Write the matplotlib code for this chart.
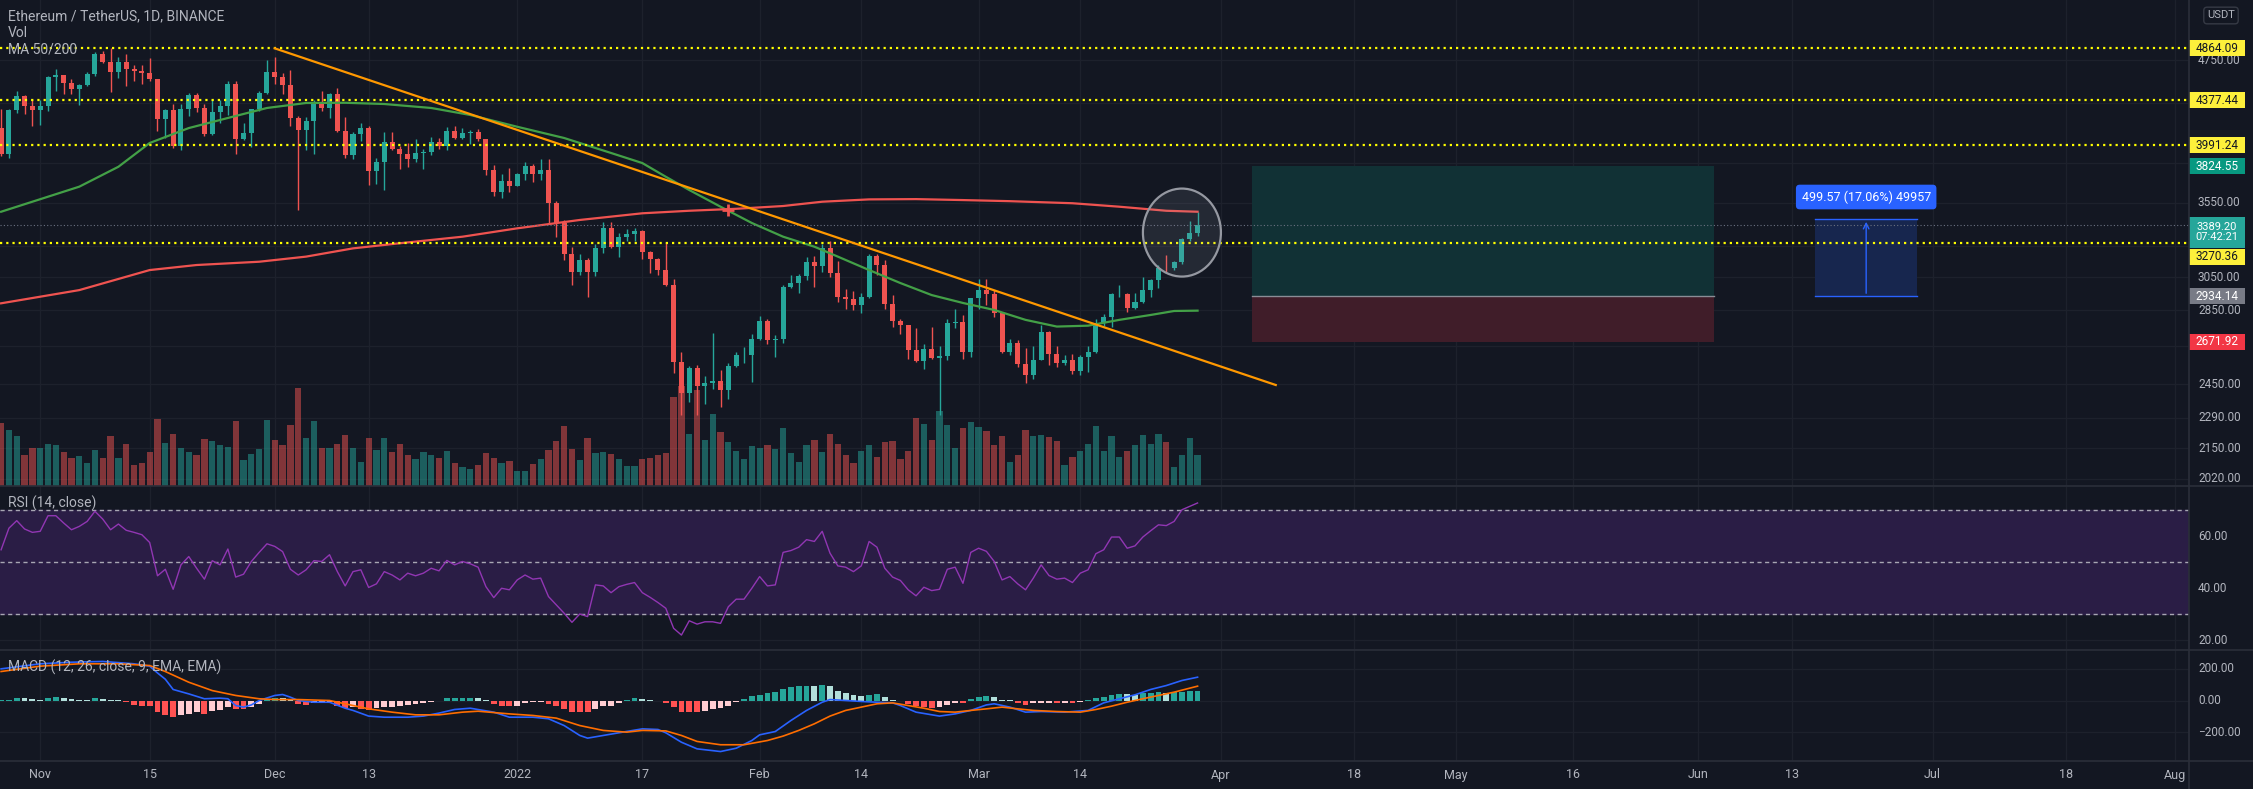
#!/usr/bin/env python
# ETH/USDT 1D (Binance) chart with volume, MA 50/200, RSI and MACD panes,
# redrawn in a TradingView-like dark style.

import numpy as np
import pandas as pd
import matplotlib
matplotlib.use("Agg")
import matplotlib.pyplot as plt
import matplotlib.transforms as mtransforms
from matplotlib import font_manager
from matplotlib.lines import Line2D
from matplotlib.patches import Rectangle, Ellipse

start_date = "2021-10-27"

opens = [4131, 3922, 4287, 4414, 4325, 4288, 4324, 4587, 4604, 4530,
         4476, 4518, 4612, 4807, 4732, 4636, 4730, 4667, 4649, 4626,
         4565, 4214, 4290, 3986, 4300, 4424, 4309, 4087, 4270, 4320,
         4523, 4046, 4096, 4294, 4444, 4631, 4586, 4511, 4220, 4119,
         4194, 4356, 4308, 4434, 4110, 3909, 4081, 4135, 3786, 3861,
         4021, 3960, 3923, 3880, 3925, 3940, 4020, 3982, 4108, 4048,
         4093, 4100, 4039, 3797, 3628, 3713, 3676, 3765, 3829, 3762,
         3796, 3549, 3406, 3196, 3080, 3156, 3081, 3239, 3372, 3246,
         3309, 3330, 3350, 3212, 3164, 3095, 3001, 2565, 2405, 2535,
         2441, 2459, 2466, 2421, 2546, 2599, 2604, 2688, 2791, 2682,
         2690, 2987, 3013, 3057, 3144, 3118, 3239, 3074, 2926, 2915,
         2880, 2929, 3183, 3123, 2885, 2788, 2764, 2627, 2571, 2636,
         2587, 2596, 2775, 2783, 2617, 2920, 2970, 2948, 2833, 2620,
         2665, 2553, 2495, 2576, 2728, 2607, 2559, 2573, 2517, 2591,
         2617, 2776, 2813, 2944, 2949, 2861, 2896, 2972, 3030, 3108,
         3106, 3146, 3298, 3336]
highs = [4299, 4297, 4460, 4419, 4390, 4377, 4600, 4665, 4606, 4574,
         4525, 4633, 4825, 4838, 4868, 4780, 4810, 4705, 4705, 4773,
         4565, 4300, 4346, 4345, 4440, 4440, 4340, 4383, 4380, 4550,
         4552, 4176, 4300, 4460, 4750, 4778, 4625, 4650, 4235, 4230,
         4375, 4460, 4445, 4490, 4230, 4100, 4180, 4150, 3890, 4100,
         4100, 3985, 4010, 4045, 3960, 4060, 4055, 4140, 4150, 4135,
         4120, 4125, 4039, 3830, 3767, 3810, 3770, 3855, 3838, 3880,
         3880, 3560, 3425, 3240, 3200, 3170, 3260, 3410, 3412, 3340,
         3365, 3374, 3360, 3215, 3173, 3276, 3040, 2620, 2545, 2550,
         2490, 2720, 2525, 2560, 2620, 2645, 2718, 2815, 2800, 2710,
         3000, 3065, 3070, 3175, 3185, 3265, 3280, 3150, 2975, 2965,
         2950, 3195, 3200, 3160, 2940, 2800, 2765, 2750, 2660, 2755,
         2650, 2800, 2860, 2825, 2925, 3035, 3040, 2970, 2840, 2690,
         2680, 2640, 2650, 2765, 2730, 2650, 2600, 2605, 2600, 2650,
         2800, 2830, 2955, 3000, 2950, 2950, 3050, 3040, 3125, 3190,
         3150, 3300, 3420, 3480]
lows = [3905, 3890, 4267, 4251, 4150, 4160, 4282, 4455, 4434, 4430,
        4330, 4500, 4600, 4718, 4450, 4576, 4500, 4555, 4520, 4555,
        4110, 4055, 3966, 3953, 4233, 4274, 4065, 4075, 4180, 4250,
        3924, 4035, 3980, 4280, 4430, 4520, 4428, 4150, 3500, 3950,
        3920, 4280, 4220, 4100, 3890, 3880, 4030, 3680, 3690, 3640,
        3950, 3800, 3820, 3860, 3800, 3915, 3960, 3955, 4040, 4040,
        4000, 4030, 3760, 3600, 3585, 3625, 3675, 3720, 3700, 3720,
        3400, 3310, 3160, 3000, 3060, 2928, 3055, 3205, 3235, 3180,
        3280, 3280, 3165, 3075, 3060, 2995, 2510, 2300, 2365, 2300,
        2355, 2425, 2340, 2380, 2540, 2560, 2460, 2685, 2660, 2590,
        2665, 2985, 2955, 3030, 2990, 3080, 3050, 2900, 2860, 2850,
        2835, 2925, 3060, 2860, 2755, 2715, 2580, 2565, 2530, 2580,
        2300, 2575, 2750, 2580, 2590, 2860, 2880, 2810, 2610, 2600,
        2540, 2455, 2475, 2575, 2550, 2540, 2550, 2505, 2500, 2515,
        2610, 2760, 2755, 2930, 2840, 2860, 2895, 2930, 2985, 3075,
        3095, 3135, 3285, 3320]
closes = [3922, 4287, 4414, 4325, 4288, 4324, 4587, 4604, 4530, 4476,
          4518, 4612, 4807, 4732, 4636, 4730, 4667, 4649, 4626, 4565,
          4214, 4290, 3986, 4300, 4424, 4309, 4087, 4270, 4320, 4523,
          4046, 4096, 4294, 4444, 4631, 4586, 4511, 4220, 4119, 4194,
          4356, 4308, 4434, 4110, 3909, 4081, 4135, 3786, 3861, 4021,
          3960, 3923, 3880, 3925, 3940, 4020, 3982, 4108, 4048, 4093,
          4100, 4039, 3797, 3628, 3713, 3676, 3765, 3829, 3762, 3796,
          3549, 3406, 3196, 3080, 3156, 3081, 3239, 3372, 3246, 3309,
          3330, 3350, 3212, 3164, 3095, 3001, 2565, 2405, 2535, 2441,
          2459, 2466, 2421, 2546, 2599, 2604, 2688, 2791, 2682, 2690,
          2987, 3013, 3057, 3144, 3118, 3239, 3074, 2926, 2915, 2880,
          2929, 3183, 3123, 2885, 2788, 2764, 2627, 2571, 2636, 2587,
          2596, 2775, 2783, 2617, 2920, 2970, 2948, 2833, 2620, 2665,
          2553, 2495, 2576, 2728, 2607, 2559, 2573, 2517, 2591, 2617,
          2776, 2813, 2944, 2949, 2861, 2896, 2972, 3030, 3108, 3106,
          3146, 3298, 3336, 3389]
volume_k = [633, 560, 500, 307, 383, 377, 417, 407, 340, 277,
            300, 227, 357, 283, 500, 277, 417, 207, 227, 340,
            667, 427, 517, 377, 340, 307, 467, 450, 407, 393,
            650, 257, 317, 367, 660, 457, 410, 610, 983, 477,
            647, 377, 383, 423, 507, 383, 240, 477, 357, 483,
            340, 423, 307, 273, 340, 307, 277, 350, 233, 193,
            173, 210, 333, 277, 233, 250, 150, 150, 217, 267,
            360, 450, 600, 367, 257, 477, 327, 340, 317, 267,
            200, 200, 267, 283, 307, 327, 893, 1000, 517, 960,
            457, 717, 543, 440, 350, 267, 400, 377, 407, 367,
            583, 327, 240, 407, 460, 340, 523, 417, 307, 227,
            350, 407, 293, 440, 450, 267, 350, 677, 617, 457,
            750, 607, 377, 577, 643, 593, 550, 407, 500, 243,
            307, 557, 500, 507, 493, 450, 207, 290, 350, 417,
            600, 350, 500, 293, 350, 407, 507, 417, 517, 440,
            193, 307, 477, 307]

# moving averages, sampled along the curves (day index, price)
ma50_day = [0, 10, 15, 19, 24, 29, 34, 39, 44, 49, 55, 60, 66, 72, 78, 82, 85,
            88, 92, 96, 100, 104, 107, 111, 115, 119, 123, 127, 131, 135, 139,
            143, 147, 150, 153]
ma50_val = [3485, 3668, 3820, 4010, 4134, 4220, 4307, 4351, 4353, 4342, 4307,
            4246, 4145, 4051, 3929, 3849, 3743, 3643, 3521, 3406, 3312, 3245,
            3180, 3094, 3013, 2940, 2893, 2852, 2795, 2757, 2762, 2795, 2823,
            2846, 2848]
ma200_day = [0, 10, 19, 25, 33, 39, 45, 51, 59, 66, 74, 82, 88, 94, 100, 105,
             111, 117, 123, 129, 137, 143, 149, 153]
ma200_val = [2891, 2970, 3094, 3126, 3147, 3180, 3234, 3268, 3312, 3369, 3427,
             3474, 3492, 3506, 3526, 3557, 3574, 3576, 3569, 3561, 3546, 3521,
             3492, 3485]

rsi = [54.7, 63.0, 65.9, 62.7, 61.4, 61.8, 67.8, 67.8, 65.0, 62.4,
       63.7, 65.6, 69.5, 66.5, 62.4, 64.6, 62.2, 61.4, 60.5, 57.5,
       44.7, 47.2, 39.5, 48.9, 52.1, 47.6, 43.4, 50.5, 48.9, 55.0,
       44.2, 45.3, 50.2, 53.7, 57.0, 56.0, 54.0, 47.2, 45.0, 47.0,
       50.5, 50.2, 52.8, 46.3, 40.8, 46.3, 47.0, 40.2, 41.6, 46.3,
       45.0, 43.1, 45.7, 44.7, 45.7, 47.6, 46.6, 50.6, 48.9, 50.2,
       49.3, 48.0, 40.5, 36.3, 39.9, 39.3, 43.1, 45.0, 43.4, 43.8,
       36.7, 33.5, 30.3, 26.8, 30.0, 29.0, 41.2, 40.8, 38.2, 40.5,
       41.4, 42.1, 38.2, 36.4, 34.4, 32.2, 24.5, 21.9, 27.4, 26.1,
       27.0, 27.0, 26.4, 32.8, 35.7, 35.7, 39.9, 44.4, 40.8, 41.2,
       53.7, 54.4, 55.7, 58.6, 57.9, 61.8, 53.4, 48.5, 48.0, 46.3,
       48.5, 57.9, 55.7, 47.6, 44.2, 42.9, 39.3, 37.0, 40.3, 39.0,
       39.5, 47.2, 48.0, 41.8, 53.7, 55.3, 54.1, 50.2, 43.1, 44.4,
       41.6, 39.3, 43.8, 48.9, 44.8, 43.4, 43.8, 42.1, 45.7, 47.0,
       53.2, 54.7, 59.6, 59.6, 55.3, 56.2, 59.6, 62.0, 64.3, 64.0,
       65.6, 70.1, 71.4, 72.7]

macd_day = [0, 5, 9, 13, 17, 19, 20, 21, 22, 24, 26, 28, 29, 30, 31, 32, 33,
            35, 36, 37, 38, 40, 42, 44, 45, 47, 49, 52, 54, 56, 58, 60, 63, 65,
            68, 70, 72, 74, 75, 77, 79, 82, 84, 85, 87, 89, 92, 94, 96, 97, 99,
            101, 103, 105, 106, 108, 110, 112, 114, 115, 117, 120, 122, 124,
            126, 127, 129, 131, 133, 136, 139, 141, 143, 145, 147, 149, 151, 153]
macd_val = [201, 233, 243, 248, 233, 218, 175, 135, 70, 42, 11, 15, 11, -32,
            -42, -28, 0, 32, 38, 21, 0, -11, -11, -49, -63, -99, -106, -106,
            -99, -80, -57, -49, -74, -106, -106, -116, -159, -222, -239, -222,
            -205, -180, -184, -205, -265, -307, -324, -303, -254, -218, -197,
            -127, -63, -11, 6, 0, -6, -11, -15, -32, -74, -99, -85, -63, -28,
            -21, -42, -74, -70, -74, -63, -15, 11, 36, 70, 95, 127, 148]
signal_day = [0, 5, 10, 15, 19, 21, 24, 27, 30, 33, 35, 38, 42, 44, 47, 50, 53,
              56, 59, 61, 65, 68, 71, 74, 77, 80, 82, 85, 87, 89, 92, 95, 98,
              100, 102, 104, 106, 108, 110, 112, 114, 116, 118, 120, 122, 124,
              126, 128, 130, 132, 135, 138, 140, 142, 144, 146, 148, 150, 153]
signal_val = [184, 218, 233, 233, 222, 184, 116, 63, 32, 11, 6, 6, 0, -21, -53,
              -74, -91, -91, -74, -68, -85, -95, -112, -159, -190, -201, -190,
              -193, -222, -260, -281, -281, -254, -226, -190, -148, -99, -63,
              -42, -21, -15, -32, -49, -70, -74, -63, -53, -42, -53, -63, -70,
              -74, -57, -36, -11, 11, 32, 53, 91]
hist = [2, 6, 17, 15, 10, 4, 17, 25, 15, 8,
        6, 5, 13, 11, 2, 0.5, -10, -27, -32, -38,
        -70, -91, -102, -95, -85, -74, -85, -68, -63, -42,
        -53, -57, -42, -21, 8, 18, 15, 4, -21, -27,
        -17, -10, -9, -38, -47, -42, -53, -59, -47, -42,
        -41, -36, -27, -21, -15, -10, -3, 15, 17, 18,
        19, 17, 4, -25, -32, -36, -32, -15, -10, -9,
        -25, -38, -57, -74, -75, -76, -53, -36, -32, -15,
        6, 15, 10, 4, -1, -15, -42, -70, -70, -72,
        -68, -53, -49, -32, -10, 10, 27, 38, 47, 57,
        70, 85, 91, 95, 93, 101, 91, 63, 49, 32,
        28, 38, 39, 21, 4, -6, -23, -36, -42, -49,
        -42, -27, -15, -16, 10, 21, 27, 25, 6, 1,
        -15, -27, -17, -15, -14, -16, -14, -17, -10, 4,
        15, 25, 38, 42, 40, 38, 47, 48, 53, 47,
        53, 57, 59, 60]

# drawings on the chart
levels = [4864.09, 4377.44, 3991.24, 3270.36]
last_price = 3389.20
last_time = "07:42:21"
trend_dates = ["2021-12-01", "2022-04-08"]
trend_prices = [4864.09, 2447.0]
long_dates = ["2022-04-05", "2022-06-03"]
long_target, long_entry, long_stop = 3824.55, 2934.14, 2671.92
range_dates = ["2022-06-16", "2022-06-29"]
range_low, range_change, range_pct, range_ticks = 2934.14, 499.57, 17.06, 49957
circle_date, circle_price = "2022-03-27", 3340
cross_date, cross_price = "2022-01-28", 3495

grid_prices = [4750, 4350, 3850, 3550, 3250, 3050, 2850, 2650, 2450, 2290, 2150, 2020]
price_labels = [4750, 3550, 3050, 2850, 2450, 2290, 2150, 2020]  # the rest sit under tags
rsi_ticks = [60, 40, 20]
macd_ticks = [200, 0, -200]
tick_dates = ["2021-11-01", "2021-11-15", "2021-12-01", "2021-12-13", "2022-01-01",
              "2022-01-17", "2022-02-01", "2022-02-14", "2022-03-01", "2022-03-14",
              "2022-04-01", "2022-04-18", "2022-05-01", "2022-05-16", "2022-06-01",
              "2022-06-13", "2022-07-01", "2022-07-18", "2022-08-01"]
tick_labels = ["Nov", "15", "Dec", "13", "2022", "17", "Feb", "14", "Mar", "14",
               "Apr", "18", "May", "16", "Jun", "13", "Jul", "18", "Aug"]

# style
BG = "#131722"
GRID = "#1d212c"
SEP = "#2a2e39"
TXT = "#b2b5be"
UP = "#26a69a"
DN = "#ef5350"

names = {f.name for f in font_manager.fontManager.ttflist}
font = "Liberation Sans Narrow" if "Liberation Sans Narrow" in names else "Roboto"
plt.rcParams["font.family"] = [font, "DejaVu Sans"]
SCALE_FS = 9 if font == "Liberation Sans Narrow" else 8.5

W, H = 2253, 789
PLOT_R = 2189
PX_DAY = 7.82
X0 = 1.1
PX_LN = 490.0


def day(d):
    return (pd.Timestamp(d) - pd.Timestamp(start_date)).days


def add_ax(y0, y1, x0=0, x1=PLOT_R):
    a = fig.add_axes([x0 / W, 1 - y1 / H, (x1 - x0) / W, (y1 - y0) / H])
    a.set_axis_off()
    return a


fig = plt.figure(figsize=(W / 100, H / 100), dpi=100, facecolor=BG)
xlim = (-X0 / PX_DAY, (PLOT_R - X0) / PX_DAY)
main_ylim = (4750 * np.exp(-(486 - 60) / PX_LN), 4750 * np.exp(60 / PX_LN))
rsi_ylim = (50 - 87 / 2.6, 50 + 75 / 2.6)
macd_ylim = (-60.5 * 200 / 31.5, 50.5 * 200 / 31.5)

ax_vol = add_ax(0, 486)
ax = add_ax(0, 486)
ax_rsi = add_ax(487, 649)
ax_macd = add_ax(650, 761)
ax_r = add_ax(0, 486, PLOT_R, W)
ax_r_rsi = add_ax(487, 649, PLOT_R, W)
ax_r_macd = add_ax(650, 761, PLOT_R, W)

for a in (ax, ax_r):
    a.set_yscale("log")
    a.set_ylim(*main_ylim)
for a in (ax_vol, ax, ax_rsi, ax_macd):
    a.set_xlim(*xlim)
ax_vol.set_ylim(0, 4860)
ax_r.set_xlim(0, 1)
ax_rsi.set_ylim(*rsi_ylim)
ax_r_rsi.set_ylim(*rsi_ylim)
ax_macd.set_ylim(*macd_ylim)
ax_r_macd.set_ylim(*macd_ylim)

x = np.arange(len(closes))
o = np.array(opens, float)
c = np.array(closes, float)
up = c >= o
tick_x = [day(d) for d in tick_dates]

# grid (drawn in the bottom layer)
grid_tr = mtransforms.blended_transform_factory(ax_vol.transAxes, ax.transData)
for p in grid_prices:
    ax_vol.plot([0, 1], [p, p], color=GRID, lw=1, transform=grid_tr, zorder=0)
for a in (ax_vol, ax_rsi, ax_macd):
    for t in tick_x:
        a.axvline(t, color=GRID, lw=1, zorder=0)
for t in rsi_ticks:
    ax_rsi.axhline(t, color=GRID, lw=1, zorder=0)
for t in macd_ticks:
    ax_macd.axhline(t, color=GRID, lw=1, zorder=0)

# volume
vol_cols = [(0.149, 0.651, 0.604, 0.5) if u else (0.937, 0.325, 0.314, 0.5) for u in up]
ax_vol.bar(x, volume_k, width=0.8, color=vol_cols, zorder=2)

# candles
cols = [UP if u else DN for u in up]
ax.vlines(x, lows, highs, colors=cols, lw=1, zorder=3)
ax.bar(x, np.maximum(np.abs(c - o), 2.0), bottom=np.minimum(o, c), width=0.64,
       color=cols, zorder=3)

# moving averages and trend line
ax.plot(ma50_day, ma50_val, color="#43a047", lw=1.6, zorder=4)
ax.plot(ma200_day, ma200_val, color="#ef5350", lw=1.6, zorder=4)
ax.plot(day(cross_date), cross_price, marker="+", color="#ef5350", ms=9, mew=2, zorder=5)
ax.plot([day(d) for d in trend_dates], trend_prices, color="#ff9800", lw=1.6, zorder=5)

# horizontal levels
for lv in levels:
    ax.axhline(lv, color="#ffff00", lw=1.6, ls=(0, (1, 1.8)), zorder=4)
ax.axhline(last_price, color="#6b7282", lw=0.8, ls=(0, (1, 2)), zorder=4)

# long position tool
lx0, lx1 = day(long_dates[0]), day(long_dates[1])
ax.add_patch(Rectangle((lx0, long_entry), lx1 - lx0, long_target - long_entry,
                       facecolor="#113135", edgecolor="none", zorder=1))
ax.add_patch(Rectangle((lx0, long_stop), lx1 - lx0, long_entry - long_stop,
                       facecolor="#401d29", edgecolor="none", zorder=1))
ax.plot([lx0, lx1], [long_entry, long_entry], color="#8a8d96", lw=1, zorder=2)

# price range tool
rx0, rx1 = day(range_dates[0]), day(range_dates[1])
rtop = range_low + range_change
ax.add_patch(Rectangle((rx0, range_low), rx1 - rx0, range_change,
                       facecolor="#17264e", edgecolor="none", zorder=1))
ax.plot([rx0, rx1], [range_low, range_low], color="#2962ff", lw=1, zorder=2)
ax.plot([rx0, rx1], [rtop, rtop], color="#2962ff", lw=1, zorder=2)
rmid = (rx0 + rx1) / 2
ax.annotate("", xy=(rmid, rtop), xytext=(rmid, range_low),
            arrowprops=dict(arrowstyle="->", color="#2962ff", lw=1), zorder=3)
ax.text(rmid, rtop * np.exp(22 / PX_LN),
        f"{range_change:.2f} ({range_pct:.2f}%) {range_ticks}",
        ha="center", va="center", color="white", fontsize=9, zorder=6,
        bbox=dict(boxstyle="round,pad=0.45,rounding_size=0.3", fc="#2962ff", ec="none"))

# highlight circle (drawn in axes coords so it stays round on the log axis)
cx, cy = (ax.transData + ax.transAxes.inverted()).transform((day(circle_date), circle_price))
ax.add_patch(Ellipse((cx, cy), 78 / PLOT_R, 88 / 486, transform=ax.transAxes,
                     facecolor=(0.62, 0.64, 0.70, 0.13), edgecolor="#9598a1",
                     lw=1.6, zorder=6))

# RSI pane
ax_rsi.axhspan(30, 70, color="#2a1d45", zorder=0.5)
for lv in (70, 50, 30):
    ax_rsi.axhline(lv, color="#c8cad0", lw=1, ls=(0, (3, 2.5)), alpha=0.8, zorder=1)
ax_rsi.plot(x, rsi, color="#9136b3", lw=1, zorder=3)

# MACD pane
hcols = []
for i, v in enumerate(hist):
    prev = hist[i - 1] if i > 0 else 0
    if v >= 0:
        hcols.append("#26a69a" if v > prev else "#b2dfdb")
    else:
        hcols.append("#ffcdd2" if v > prev else "#ff5252")
ax_macd.bar(x, hist, width=0.75, color=hcols, zorder=2)
ax_macd.plot(macd_day, macd_val, color="#2962ff", lw=1.2, zorder=3)
ax_macd.plot(signal_day, signal_val, color="#ff6d00", lw=1.2, zorder=3)


# right price scales
def scale_labels(a, ticks, fmt):
    tr = a.get_yaxis_transform()
    for t in ticks:
        a.text(9 / 64, t, fmt(t), transform=tr, ha="left", va="center",
               color=TXT, fontsize=SCALE_FS, zorder=2)


scale_labels(ax_r, price_labels, lambda t: f"{t:.2f}")
scale_labels(ax_r_rsi, rsi_ticks, lambda t: f"{t:.2f}")
scale_labels(ax_r_macd, macd_ticks, lambda t: f"{t:.2f}".replace("-", "\u2212"))


def tag(p, text, fc, tc, up_px=8, down_px=8, text_px=0, shift_px=0, fs=SCALE_FS):
    # shift_px pushes a tag down when it would collide with the one above
    tr = ax_r.get_yaxis_transform()
    p = p * np.exp(-shift_px / PX_LN)
    lo, hi = p * np.exp(-down_px / PX_LN), p * np.exp(up_px / PX_LN)
    ax_r.add_patch(Rectangle((0, lo), 56 / 64, hi - lo, transform=tr,
                             facecolor=fc, edgecolor="none", zorder=5))
    ax_r.text(28 / 64, p * np.exp(-text_px / PX_LN), text, transform=tr,
              ha="center", va="center", color=tc, fontsize=fs,
              linespacing=1.0, zorder=6)


tag(last_price, f"{last_price:.2f}\n{last_time}", "#26a69a", "white",
    up_px=8, down_px=23, text_px=7, fs=SCALE_FS - 0.5)
for lv in levels:
    tag(lv, f"{lv:.2f}", "#fdf03b", "#131722", shift_px=14 if lv < last_price else 0)
tag(long_target, f"{long_target:.2f}", "#089981", "white")
tag(long_entry, f"{long_entry:.2f}", "#787b86", "white")
tag(long_stop, f"{long_stop:.2f}", "#f23645", "white")
fig.text(2221 / W, 1 - 15.5 / H, "USDT", ha="center", va="center", color=TXT,
         fontsize=8, bbox=dict(boxstyle="round,pad=0.3", fc=BG, ec="#363a45"))

# pane titles
fig.text(8 / W, 1 - 16 / H, "Ethereum / TetherUS, 1D, BINANCE", color=TXT,
         fontsize=10, va="center")
fig.text(8 / W, 1 - 33 / H, "Vol", color=TXT, fontsize=10, va="center")
fig.text(8 / W, 1 - 50 / H, "MA 50/200", color=TXT, fontsize=10, va="center")
fig.text(8 / W, 1 - 503 / H, "RSI (14, close)", color=TXT, fontsize=10, va="center")
fig.text(8 / W, 1 - 667 / H, "MACD (12, 26, close, 9, EMA, EMA)", color=TXT,
         fontsize=10, va="center")

# time axis
date_tr = mtransforms.blended_transform_factory(ax_macd.transData, fig.transFigure)
for t, lab in zip(tick_x, tick_labels):
    fig.text(t, 1 - 775 / H, lab, transform=date_tr, ha="center", va="center",
             color=TXT, fontsize=9)

# pane separators
for yy in (486.5, 649.5, 761):
    fig.add_artist(Line2D([0, 1], [1 - yy / H] * 2, color=SEP, lw=1.2))
fig.add_artist(Line2D([PLOT_R / W] * 2, [0, 1], color=SEP, lw=1.2))

fig.savefig("out.png", dpi=100, facecolor=BG)
